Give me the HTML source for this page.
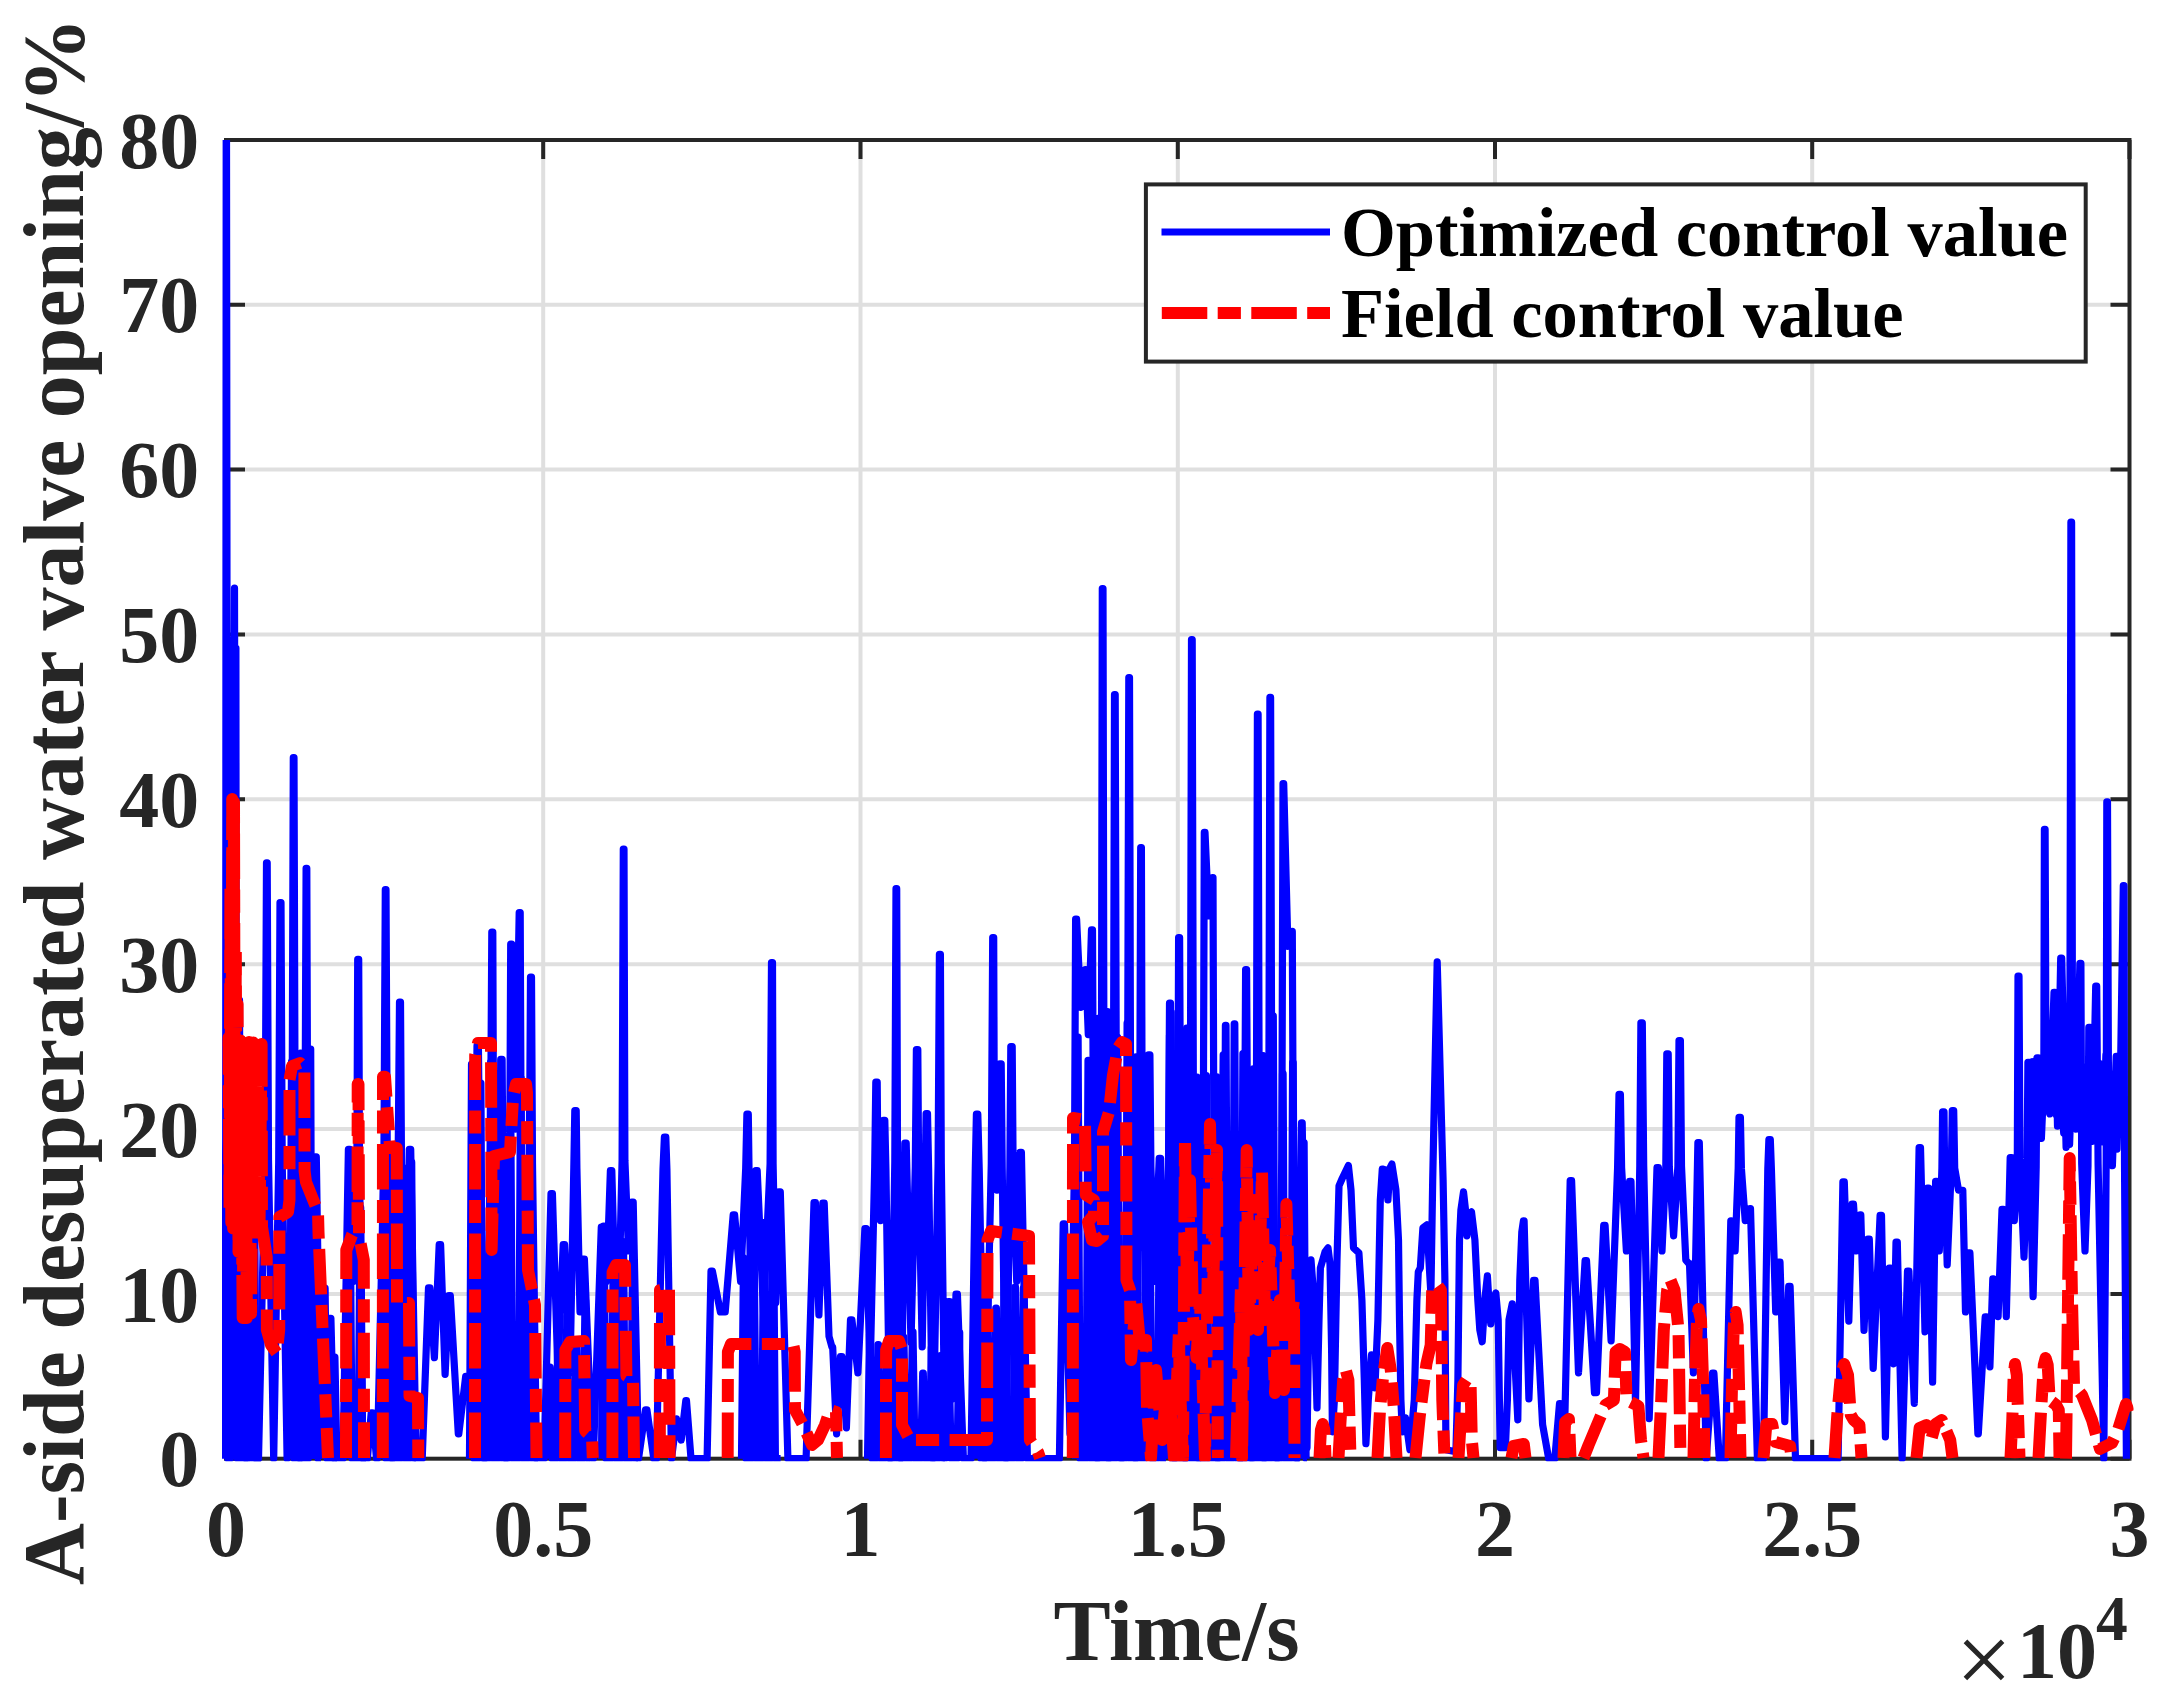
<!DOCTYPE html><html><head><meta charset="utf-8"><title>chart</title><style>html,body{margin:0;padding:0;background:#fff}svg{display:block}</style></head><body><svg width="2166" height="1702" viewBox="0 0 2166 1702">
<rect width="2166" height="1702" fill="#fff"/>
<path d="M543.2 140.0 V1458.7 M860.5 140.0 V1458.7 M1177.8 140.0 V1458.7 M1495.0 140.0 V1458.7 M1812.2 140.0 V1458.7 M226.0 1293.9 H2129.5 M226.0 1129.0 H2129.5 M226.0 964.2 H2129.5 M226.0 799.3 H2129.5 M226.0 634.5 H2129.5 M226.0 469.6 H2129.5 M226.0 304.8 H2129.5" stroke="#262626" stroke-opacity="0.15" stroke-width="4" fill="none"/>
<path d="M226.0 1458.7 v-19.0 M226.0 140.0 v19.0 M543.2 1458.7 v-19.0 M543.2 140.0 v19.0 M860.5 1458.7 v-19.0 M860.5 140.0 v19.0 M1177.8 1458.7 v-19.0 M1177.8 140.0 v19.0 M1495.0 1458.7 v-19.0 M1495.0 140.0 v19.0 M1812.2 1458.7 v-19.0 M1812.2 140.0 v19.0 M2129.5 1458.7 v-19.0 M2129.5 140.0 v19.0 M226.0 1458.7 h19.0 M2129.5 1458.7 h-19.0 M226.0 1293.9 h19.0 M2129.5 1293.9 h-19.0 M226.0 1129.0 h19.0 M2129.5 1129.0 h-19.0 M226.0 964.2 h19.0 M2129.5 964.2 h-19.0 M226.0 799.3 h19.0 M2129.5 799.3 h-19.0 M226.0 634.5 h19.0 M2129.5 634.5 h-19.0 M226.0 469.6 h19.0 M2129.5 469.6 h-19.0 M226.0 304.8 h19.0 M2129.5 304.8 h-19.0 M226.0 139.9 h19.0 M2129.5 139.9 h-19.0" stroke="#262626" stroke-width="4" fill="none"/>
<rect x="226.0" y="140.0" width="1903.5" height="1318.7" fill="none" stroke="#262626" stroke-width="4"/>
<clipPath id="c"><rect x="222.0" y="140.0" width="1911.5" height="1321.2"/></clipPath>
<g clip-path="url(#c)" fill="none" stroke-linejoin="round">
<path d="M223.9 1458.7 L225.7 1139.1 L226.2 140.0 L226.5 140.0 L227.9 1458.7 L229.3 640.0 L230.4 1458.7 L231.5 645.0 L233.0 1100.0 L234.5 588.0 L235.1 900.0 L235.6 648.0 L235.9 648.0 L236.3 1154.3 L237.5 1458.7 L238.8 1164.9 L239.1 1000.0 L239.5 1000.0 L240.8 1458.7 L242.0 1040.0 L243.3 1458.7 L244.6 1045.0 L246.0 1458.7 L247.2 1166.1 L247.5 1041.1 L247.9 1041.1 L248.6 1041.1 L249.3 1166.1 L252.2 1458.7 L258.5 1458.7 L265.1 1160.8 L266.5 862.8 L266.8 862.8 L267.2 862.8 L268.5 1160.8 L273.7 1458.7 L278.7 1162.0 L280.0 902.5 L280.5 902.5 L281.0 902.5 L282.2 1162.0 L287.1 1458.7 L292.0 1157.6 L293.3 757.7 L293.6 757.7 L294.0 757.7 L295.2 1157.6 L300.0 1458.7 L304.9 1160.9 L306.1 868.3 L306.4 868.3 L306.8 868.3 L307.7 1160.9 L311.3 1312.0 L314.9 1156.9 L315.6 1156.9 L316.3 1156.9 L320.1 1403.4 L322.6 1287.9 L323.2 1287.9 L323.9 1287.9 L327.1 1433.9 L329.6 1318.4 L330.2 1318.4 L330.9 1318.4 L334.4 1458.7 L343.0 1458.7 L348.4 1149.3 L349.1 1149.3 L349.8 1149.3 L353.6 1281.5 L356.9 1163.7 L357.7 959.4 L358.2 959.4 L358.7 959.4 L359.5 1163.7 L362.8 1458.7 L367.4 1458.7 L371.2 1412.8 L371.9 1412.8 L372.6 1412.8 L376.5 1458.7 L377.3 1458.7 L383.9 1161.6 L385.3 889.7 L385.6 889.7 L386.0 889.7 L387.3 1161.6 L392.3 1458.7 L398.1 1165.0 L399.5 1002.1 L400.0 1002.1 L400.5 1002.1 L401.5 1165.0 L405.4 1388.2 L409.3 1149.3 L410.0 1149.3 L410.7 1149.3 L416.1 1458.7 L422.2 1458.7 L428.5 1287.9 L429.2 1287.9 L429.9 1287.9 L434.4 1357.7 L439.2 1244.6 L439.9 1244.6 L440.6 1244.6 L445.1 1374.4 L448.9 1295.5 L449.6 1295.5 L450.3 1295.5 L458.3 1433.9 L458.8 1433.9 L465.7 1376.3 L466.4 1376.3 L471.6 1409.5 L475.9 1166.3 L477.0 1045.7 L477.7 1045.7 L478.4 1045.7 L479.6 1166.3 L484.7 1458.7 L490.4 1162.9 L491.8 932.0 L492.3 932.0 L492.8 932.0 L493.6 1162.9 L496.9 1336.4 L500.0 1166.7 L500.7 1059.4 L501.4 1059.4 L502.1 1059.4 L502.9 1166.7 L506.0 1458.7 L509.7 1163.2 L510.7 944.2 L511.2 944.2 L511.7 944.2 L515.4 1129.2 L519.2 912.5 L519.7 912.5 L520.2 912.5 L521.2 1162.3 L525.2 1251.0 L529.4 1164.2 L530.5 977.1 L531.0 977.1 L531.5 977.1 L532.5 1164.2 L536.5 1458.7 L544.1 1458.7 L551.0 1193.5 L551.7 1193.5 L552.4 1193.5 L557.8 1369.9 L563.2 1244.6 L563.9 1244.6 L564.6 1244.6 L570.0 1372.9 L573.8 1168.2 L574.8 1110.6 L575.5 1110.6 L576.2 1110.6 L576.9 1168.2 L580.0 1312.0 L583.0 1259.0 L583.7 1259.0 L584.4 1259.0 L592.4 1458.7 L592.8 1458.7 L593.3 1458.7 L601.3 1227.0 L602.0 1227.0 L602.7 1227.0 L606.6 1281.5 L610.4 1170.6 L611.1 1170.6 L611.8 1170.6 L617.2 1372.9 L622.1 1160.4 L623.3 849.1 L623.6 849.1 L624.0 849.1 L624.9 1160.4 L628.5 1251.0 L631.8 1202.0 L632.5 1202.0 L633.2 1202.0 L638.5 1458.7 L645.5 1409.8 L646.2 1409.8 L646.9 1409.8 L653.8 1458.7 L656.4 1458.7 L663.0 1169.0 L664.4 1137.1 L665.1 1137.1 L665.8 1137.1 L666.9 1169.0 L671.5 1458.7 L676.6 1418.9 L681.2 1440.0 L685.8 1400.7 L686.5 1400.7 L691.0 1458.7 L707.1 1458.7 L711.0 1271.2 L711.7 1271.2 L712.4 1271.2 L720.4 1312.0 L720.8 1312.0 L725.2 1312.0 L733.2 1214.8 L733.9 1214.8 L734.6 1214.8 L740.6 1281.5 L745.7 1168.3 L746.9 1114.2 L747.6 1114.2 L748.3 1114.2 L749.0 1168.3 L751.9 1397.3 L755.8 1170.6 L756.5 1170.6 L757.2 1170.6 L763.5 1312.0 L770.1 1163.8 L771.5 962.5 L772.0 962.5 L772.5 962.5 L773.1 1163.8 L775.7 1302.8 L778.9 1191.9 L779.6 1191.9 L780.3 1191.9 L787.9 1458.7 L806.1 1458.7 L814.0 1202.6 L814.7 1202.6 L815.4 1202.6 L818.9 1315.0 L822.8 1203.2 L823.5 1203.2 L824.2 1203.2 L829.0 1336.4 L832.0 1347.3 L832.7 1347.3 L836.6 1433.9 L840.5 1356.5 L841.2 1356.5 L841.9 1356.5 L846.4 1427.8 L850.5 1319.9 L851.2 1319.9 L851.9 1319.9 L857.9 1372.9 L864.9 1228.5 L865.6 1228.5 L866.3 1228.5 L870.1 1372.9 L874.7 1167.4 L875.8 1082.2 L876.5 1082.2 L877.2 1082.2 L877.9 1167.4 L880.5 1220.6 L882.9 1168.5 L883.4 1120.3 L884.1 1120.3 L884.8 1120.3 L885.9 1168.5 L890.2 1458.7 L894.8 1161.6 L896.0 888.7 L896.3 888.7 L896.7 888.7 L897.5 1161.6 L900.9 1458.7 L904.8 1143.2 L905.5 1143.2 L906.2 1143.2 L911.0 1342.5 L915.3 1166.4 L916.4 1049.6 L917.1 1049.6 L917.8 1049.6 L918.6 1166.4 L922.2 1347.0 L925.3 1168.3 L926.1 1113.6 L926.8 1113.6 L927.5 1113.6 L928.6 1168.3 L932.9 1458.7 L938.1 1163.5 L939.4 954.3 L939.9 954.3 L940.4 954.3 L941.3 1163.5 L945.1 1458.7 L948.3 1301.6 L949.0 1301.6 L949.7 1301.6 L952.7 1398.8 L956.0 1294.0 L956.7 1294.0 L957.4 1294.0 L963.4 1458.7 L971.0 1458.7 L975.3 1168.3 L976.4 1114.2 L977.1 1114.2 L977.8 1114.2 L979.2 1168.3 L984.7 1458.7 L991.3 1163.0 L992.7 937.5 L993.2 937.5 L993.7 937.5 L994.4 1153.1 L996.9 1190.1 L999.2 1166.8 L999.8 1063.9 L1000.5 1063.9 L1001.2 1063.9 L1002.2 1166.8 L1006.0 1458.7 L1009.9 1166.3 L1010.8 1046.6 L1011.5 1046.6 L1012.2 1046.6 L1013.1 1166.3 L1016.7 1281.5 L1020.0 1152.3 L1020.7 1152.3 L1021.4 1152.3 L1027.4 1458.7 L1059.4 1458.7 L1063.2 1223.9 L1063.9 1223.9 L1064.6 1223.9 L1070.0 1433.9 L1074.5 1162.5 L1075.6 919.2 L1076.1 919.2 L1076.6 919.2 L1080.7 1007.3 L1085.3 969.5 L1085.8 969.5 L1088.3 1034.7 L1091.5 929.9 L1092.0 929.9 L1092.5 929.9 L1093.5 1162.8 L1097.4 1458.7 L1101.3 1152.6 L1102.3 588.6 L1102.6 588.6 L1103.0 588.6 L1104.1 1152.6 L1108.7 1458.7 L1113.3 1155.7 L1114.5 694.6 L1114.8 694.6 L1115.2 694.6 L1116.5 1155.7 L1121.8 1458.7 L1127.4 1155.2 L1128.8 677.6 L1129.1 677.6 L1129.5 677.6 L1130.7 1155.2 L1135.5 1458.7 L1139.6 1160.3 L1140.7 847.6 L1141.0 847.6 L1141.4 847.6 L1142.2 1160.3 L1145.6 1251.0 L1147.9 1166.5 L1148.5 1054.8 L1149.2 1054.8 L1149.9 1054.8 L1150.9 1166.5 L1154.7 1281.5 L1159.2 1158.4 L1159.9 1158.4 L1160.6 1158.4 L1164.5 1372.9 L1168.5 1165.0 L1169.5 1003.0 L1170.0 1003.0 L1170.5 1003.0 L1171.3 1165.0 L1174.5 1458.7 L1177.8 1163.0 L1178.6 937.5 L1179.1 937.5 L1179.6 937.5 L1180.7 1163.0 L1185.2 1458.7 L1190.3 1154.1 L1191.5 639.5 L1191.9 639.5 L1192.2 639.5 L1193.5 1154.1 L1198.6 1458.7 L1203.2 1159.9 L1204.3 832.4 L1204.7 832.4 L1205.0 832.4 L1208.7 915.9 L1212.6 877.5 L1213.0 877.5 L1213.9 1161.2 L1217.8 1458.7 L1222.1 1166.5 L1223.2 1054.8 L1223.9 1054.8 L1224.6 1054.8 L1225.7 1166.5 L1230.0 1403.4 L1233.9 1217.8 L1234.6 1217.8 L1235.3 1217.8 L1240.7 1458.7 L1244.6 1164.0 L1245.6 969.5 L1246.1 969.5 L1246.6 969.5 L1247.7 1164.0 L1251.9 1458.7 L1256.3 1156.3 L1257.4 714.1 L1257.7 714.1 L1258.1 714.1 L1259.3 1156.3 L1264.1 1458.7 L1268.7 1155.8 L1269.9 697.4 L1270.2 697.4 L1270.6 697.4 L1271.9 1155.8 L1277.2 1458.7 L1281.8 1158.4 L1283.0 783.6 L1283.3 783.6 L1283.7 783.6 L1287.9 946.3 L1291.8 931.4 L1292.3 931.4 L1293.3 1162.8 L1297.0 1458.7 L1300.6 1168.6 L1301.5 1122.8 L1302.2 1122.8 L1307.0 1447.7 L1309.0 1299.9 L1311.0 1259.9 L1314.0 1299.9 L1317.0 1407.8 L1319.0 1319.8 L1320.4 1267.9 L1325.0 1251.9 L1328.0 1247.9 L1330.0 1263.9 L1331.6 1349.8 L1332.4 1431.8 L1334.4 1399.8 L1337.0 1259.9 L1339.0 1185.9 L1342.4 1178.0 L1348.4 1165.6 L1351.0 1189.9 L1353.5 1247.9 L1358.9 1252.9 L1361.9 1299.9 L1364.3 1379.8 L1365.9 1443.7 L1368.3 1399.8 L1371.5 1354.8 L1374.9 1387.8 L1377.9 1319.8 L1380.3 1199.9 L1382.3 1169.0 L1385.5 1170.0 L1387.9 1199.9 L1389.9 1168.0 L1391.9 1164.0 L1395.9 1189.9 L1398.5 1239.9 L1399.5 1319.8 L1400.9 1399.8 L1402.3 1431.8 L1405.5 1417.8 L1409.9 1449.7 L1414.3 1399.8 L1416.9 1299.9 L1418.3 1271.9 L1420.3 1267.9 L1422.9 1227.9 L1426.9 1224.9 L1428.9 1259.9 L1430.9 1293.9 L1432.7 1180.0 L1437.2 961.9 L1443.1 1180.0 L1444.9 1279.9 L1445.9 1449.7 L1455.9 1451.7 L1457.9 1379.8 L1459.5 1239.9 L1460.9 1209.9 L1463.5 1191.9 L1465.5 1209.9 L1466.9 1235.9 L1468.9 1213.9 L1471.5 1211.9 L1474.9 1239.9 L1477.8 1299.9 L1479.8 1329.8 L1482.2 1341.8 L1484.8 1299.9 L1487.4 1275.9 L1489.4 1309.8 L1490.8 1323.8 L1493.4 1299.9 L1495.8 1292.9 L1498.2 1319.8 L1499.4 1399.8 L1500.2 1447.7 L1505.4 1447.7 L1507.4 1399.8 L1509.0 1319.8 L1512.2 1303.9 L1514.8 1359.8 L1517.8 1419.8 L1519.8 1279.9 L1521.8 1231.9 L1523.4 1220.9 L1524.1 1220.9 L1528.9 1398.8 L1533.6 1280.3 L1534.3 1280.3 L1535.0 1280.3 L1542.6 1424.7 L1548.7 1458.7 L1554.8 1458.7 L1559.5 1403.7 L1560.2 1403.7 L1564.5 1433.9 L1570.2 1180.7 L1570.9 1180.7 L1571.6 1180.7 L1578.5 1372.9 L1585.1 1260.5 L1585.8 1260.5 L1586.5 1260.5 L1594.5 1392.7 L1596.5 1392.7 L1603.7 1225.4 L1604.4 1225.4 L1605.1 1225.4 L1611.1 1340.9 L1617.6 1167.7 L1619.0 1094.4 L1619.7 1094.4 L1620.4 1094.4 L1621.6 1167.7 L1626.4 1251.0 L1629.6 1181.3 L1630.3 1181.3 L1631.0 1181.3 L1635.5 1403.4 L1639.8 1165.6 L1640.9 1022.8 L1641.6 1022.8 L1642.3 1022.8 L1643.7 1165.6 L1649.2 1418.6 L1657.0 1167.6 L1657.7 1167.6 L1658.4 1167.6 L1662.0 1251.0 L1665.8 1166.5 L1666.8 1053.9 L1667.5 1053.9 L1668.2 1053.9 L1669.3 1166.5 L1673.6 1235.8 L1677.9 1166.1 L1679.0 1040.5 L1679.7 1040.5 L1680.4 1040.5 L1681.5 1166.1 L1685.8 1260.2 L1688.8 1263.5 L1689.5 1263.5 L1693.4 1372.9 L1697.9 1142.6 L1698.6 1142.6 L1699.3 1142.6 L1706.2 1458.7 L1712.5 1373.2 L1713.2 1373.2 L1713.9 1373.2 L1719.3 1458.7 L1725.4 1458.7 L1730.8 1220.9 L1731.5 1220.9 L1735.1 1251.0 L1738.2 1168.4 L1739.0 1117.3 L1739.7 1117.3 L1740.4 1117.3 L1741.4 1168.4 L1745.2 1220.6 L1749.8 1208.7 L1750.5 1208.7 L1757.4 1458.7 L1763.5 1458.7 L1767.8 1169.1 L1768.9 1139.5 L1769.6 1139.5 L1770.3 1139.5 L1771.4 1169.1 L1775.7 1312.0 L1778.6 1262.0 L1779.3 1262.0 L1780.0 1262.0 L1784.8 1421.7 L1788.7 1286.4 L1789.4 1286.4 L1790.1 1286.4 L1795.5 1458.7 L1838.1 1458.7 L1842.9 1181.9 L1843.6 1181.9 L1844.3 1181.9 L1848.8 1321.1 L1852.1 1204.1 L1852.8 1204.1 L1853.5 1204.1 L1856.4 1251.0 L1860.1 1214.8 L1860.8 1214.8 L1864.0 1330.3 L1867.9 1239.2 L1868.6 1239.2 L1869.3 1239.2 L1873.2 1368.4 L1880.1 1215.4 L1880.8 1215.4 L1881.5 1215.4 L1885.4 1436.9 L1889.2 1268.1 L1889.9 1268.1 L1890.6 1268.1 L1893.6 1363.8 L1896.0 1242.2 L1896.6 1242.2 L1897.3 1242.2 L1902.1 1458.7 L1907.5 1271.2 L1908.2 1271.2 L1908.9 1271.2 L1914.3 1403.4 L1919.1 1147.7 L1919.8 1147.7 L1920.5 1147.7 L1925.0 1331.8 L1927.4 1188.0 L1928.0 1188.0 L1928.7 1188.0 L1932.6 1382.1 L1935.6 1181.3 L1936.3 1181.3 L1936.9 1181.3 L1939.3 1251.0 L1941.9 1168.3 L1942.6 1111.8 L1943.3 1111.8 L1944.0 1111.8 L1944.6 1168.3 L1947.2 1264.8 L1951.3 1168.2 L1952.3 1110.6 L1953.0 1110.6 L1953.7 1110.6 L1954.7 1168.2 L1958.5 1190.1 L1962.2 1190.4 L1962.8 1190.4 L1965.5 1312.0 L1968.5 1252.9 L1969.2 1252.9 L1969.9 1252.9 L1977.9 1433.9 L1978.3 1433.9 L1985.2 1316.9 L1985.9 1316.9 L1986.6 1316.9 L1989.9 1366.8 L1992.8 1278.8 L1993.5 1278.8 L1998.1 1316.6 L2002.0 1209.3 L2002.7 1209.3 L2003.4 1209.3 L2006.3 1316.6 L2010.2 1157.5 L2010.9 1157.5 L2011.6 1157.5 L2014.3 1220.6 L2017.3 1164.2 L2018.0 976.2 L2018.5 976.2 L2019.0 976.2 L2020.0 1164.2 L2024.0 1257.1 L2027.1 1166.8 L2027.9 1062.4 L2028.6 1062.4 L2029.3 1062.4 L2030.1 1166.8 L2033.1 1296.7 L2036.2 1166.6 L2037.0 1057.9 L2037.7 1057.9 L2038.4 1057.9 L2041.4 1138.3 L2043.8 1082.7 L2044.4 829.3 L2044.7 829.3 L2045.1 829.3 L2046.0 1062.7 L2049.9 1113.9 L2054.0 992.3 L2054.5 992.3 L2055.0 992.3 L2057.5 1126.1 L2060.7 958.2 L2061.2 958.2 L2061.7 958.2 L2066.1 1147.4 L2069.9 1034.9 L2070.9 522.2 L2071.2 522.2 L2071.6 522.2 L2072.4 1019.9 L2075.8 1129.2 L2079.9 963.4 L2080.4 963.4 L2080.9 963.4 L2081.7 1163.8 L2085.0 1251.0 L2088.0 1165.7 L2088.8 1027.4 L2089.5 1027.4 L2090.1 1027.4 L2092.6 1141.3 L2095.7 986.2 L2096.2 986.2 L2096.7 986.2 L2098.1 1164.5 L2103.8 1458.7 L2106.2 1159.0 L2106.8 801.9 L2107.2 801.9 L2107.5 801.9 L2108.5 1100.2 L2112.4 1165.7 L2116.2 1056.3 L2116.9 1056.3 L2117.6 1056.3 L2120.0 1104.8 L2123.3 885.7 L2123.6 885.7 L2124.0 885.7 L2124.5 1161.5 L2126.4 1458.7" stroke="#0000ff" stroke-width="7.2"/>
<path d="M2034.0 1058.0 L2036.8 1136.0 L2039.4 1066.4 L2042.7 1112.3 L2046.2 1046.5 L2049.6 1112.8 L2052.2 1062.0 L2056.4 1115.0 L2059.3 1070.1 L2063.7 1133.1 L2067.0 1084.1 L2069.6 1144.3 L2072.7 1050.8 L2075.4 1122.3 L2079.6 1052.2 L2083.2 1135.6 L2086.5 1066.9 L2089.1 1112.4 L2092.0 1072.2 L2095.4 1122.6 L2099.0 1063.1 L2102.1 1141.8 L2106.0 1054.8 L2109.7 1131.0 L2113.9 1074.2 L2117.0 1149.2 L2119.8 1061.7 L2123.8 1116.1" stroke="#0000ff" stroke-width="7.2"/>
<path d="M241.5 1458.7 L243.5 1043.5 L244.1 1043.5 L246.1 1458.7 L250.0 1458.7" stroke="#0000ff" stroke-width="7.2"/>
<path d="M251.5 1458.7 L253.5 1093.5 L254.1 1093.5 L256.1 1458.7 L261.1 1458.7" stroke="#0000ff" stroke-width="7.2"/>
<path d="M289.5 1458.7 L291.5 1061.9 L292.1 1061.9 L294.1 1458.7 L298.5 1458.7 L300.5 1053.0 L301.1 1053.0 L303.1 1458.7 L308.1 1458.7 L310.1 1049.0 L310.7 1049.0 L312.0 1458.7 L312.0 1458.7" stroke="#0000ff" stroke-width="7.2"/>
<path d="M313.5 1458.7 L315.5 1213.8 L316.1 1213.8 L318.1 1458.7 L321.0 1458.7" stroke="#0000ff" stroke-width="7.2"/>
<path d="M322.5 1458.7 L324.5 1288.2 L325.1 1288.2 L327.1 1458.7 L332.3 1458.7 L334.3 1357.2 L334.9 1357.2 L336.9 1458.7 L337.0 1458.7" stroke="#0000ff" stroke-width="7.2"/>
<path d="M347.5 1458.7 L349.5 1195.3 L350.1 1195.3 L352.1 1458.7 L358.1 1458.7 L360.1 1207.5 L360.7 1207.5 L362.7 1458.7 L366.0 1458.7" stroke="#0000ff" stroke-width="7.2"/>
<path d="M381.5 1458.7 L383.5 1177.4 L384.1 1177.4 L386.1 1458.7 L391.3 1458.7 L393.3 1154.7 L393.9 1154.7 L395.9 1458.7 L400.6 1458.7 L402.6 1167.5 L403.2 1167.5 L405.2 1458.7 L409.1 1458.7 L411.1 1162.2 L411.7 1162.2 L413.7 1458.7 L416.0 1458.7" stroke="#0000ff" stroke-width="7.2"/>
<path d="M469.5 1458.7 L471.5 1064.2 L472.1 1064.2 L474.1 1458.7 L478.3 1458.7 L480.3 1083.1 L480.9 1083.1 L482.9 1458.7 L488.6 1458.7 L490.6 1062.1 L491.2 1062.1 L493.2 1458.7 L497.9 1458.7 L499.9 1095.6 L500.5 1095.6 L502.5 1458.7 L508.2 1458.7 L510.2 1115.2 L510.8 1115.2 L512.8 1458.7 L518.5 1458.7 L520.5 1078.1 L521.1 1078.1 L523.1 1458.7 L527.7 1458.7 L529.7 1084.4 L530.3 1084.4 L532.3 1458.7 L538.0 1458.7" stroke="#0000ff" stroke-width="7.2"/>
<path d="M547.5 1458.7 L549.5 1367.0 L550.1 1367.0 L552.1 1458.7 L556.1 1458.7 L558.1 1312.3 L558.7 1312.3 L560.7 1458.7 L564.8 1458.7 L566.8 1316.3 L567.4 1316.3 L569.4 1458.7 L574.2 1458.7 L576.2 1341.2 L576.8 1341.2 L578.8 1458.7 L583.0 1458.7 L585.0 1300.3 L585.6 1300.3 L587.6 1458.7 L590.0 1458.7" stroke="#0000ff" stroke-width="7.2"/>
<path d="M601.5 1458.7 L603.5 1226.2 L604.1 1226.2 L606.1 1458.7 L611.1 1458.7 L613.1 1269.6 L613.7 1269.6 L615.7 1458.7 L620.9 1458.7 L622.9 1241.6 L623.5 1241.6 L625.5 1458.7 L630.6 1458.7 L632.6 1255.4 L633.2 1255.4 L635.2 1458.7 L638.0 1458.7" stroke="#0000ff" stroke-width="7.2"/>
<path d="M741.5 1458.7 L743.5 1258.0 L744.1 1258.0 L746.1 1458.7 L751.6 1458.7 L753.6 1256.2 L754.2 1256.2 L756.2 1458.7 L761.7 1458.7 L763.7 1222.5 L764.3 1222.5 L766.3 1458.7 L770.8 1458.7 L772.8 1202.2 L773.4 1202.2 L775.4 1458.7 L780.6 1458.7" stroke="#0000ff" stroke-width="7.2"/>
<path d="M867.5 1458.7 L869.5 1334.4 L870.1 1334.4 L872.1 1458.7 L875.9 1458.7 L877.9 1344.6 L878.5 1344.6 L880.5 1458.7 L884.5 1458.7 L886.5 1353.8 L887.1 1353.8 L889.1 1458.7 L892.8 1458.7 L894.8 1330.0 L895.4 1330.0 L897.4 1458.7 L901.3 1458.7 L903.3 1337.1 L903.9 1337.1 L905.9 1458.7 L910.4 1458.7 L912.4 1331.8 L913.0 1331.8 L915.0 1458.7 L920.7 1458.7 L922.7 1373.0 L923.3 1373.0 L925.3 1458.7 L929.3 1458.7 L931.3 1347.7 L931.9 1347.7 L933.9 1458.7 L938.3 1458.7 L940.3 1355.5 L940.9 1355.5 L942.9 1458.7 L945.0 1458.7" stroke="#0000ff" stroke-width="7.2"/>
<path d="M946.5 1458.7 L948.5 1359.4 L949.1 1359.4 L951.1 1458.7 L957.1 1458.7 L959.1 1332.6 L959.7 1332.6 L960.0 1458.7 L960.0 1458.7" stroke="#0000ff" stroke-width="7.2"/>
<path d="M976.5 1458.7 L978.5 1256.0 L979.1 1256.0 L981.1 1458.7 L984.9 1458.7 L986.9 1274.0 L987.5 1274.0 L989.5 1458.7 L993.8 1458.7 L995.8 1308.0 L996.4 1308.0 L998.4 1458.7 L1002.4 1458.7 L1004.4 1251.6 L1005.0 1251.6 L1007.0 1458.7 L1012.9 1458.7 L1014.9 1287.0 L1015.5 1287.0 L1017.5 1458.7 L1021.4 1458.7 L1023.4 1288.0 L1024.0 1288.0 L1024.0 1458.7 L1024.0 1458.7" stroke="#0000ff" stroke-width="7.2"/>
<path d="M1075.5 1458.7 L1077.5 1037.0 L1078.1 1037.0 L1080.1 1458.7 L1086.0 1458.7 L1088.0 1060.4 L1088.6 1060.4 L1090.6 1458.7 L1095.9 1458.7 L1097.9 1018.3 L1098.5 1018.3 L1100.5 1458.7 L1105.0 1458.7 L1107.0 1011.7 L1107.6 1011.7 L1109.6 1458.7 L1115.1 1458.7 L1117.1 1037.3 L1117.7 1037.3 L1119.7 1458.7 L1125.1 1458.7 L1127.1 1023.1 L1127.7 1023.1 L1129.7 1458.7 L1133.9 1458.7 L1135.9 1056.8 L1136.5 1056.8 L1138.5 1458.7 L1144.4 1458.7 L1146.4 1059.7 L1147.0 1059.7 L1146.0 1458.7 L1146.0 1458.7" stroke="#0000ff" stroke-width="7.2"/>
<path d="M1147.5 1458.7 L1149.5 1217.3 L1150.1 1217.3 L1152.1 1458.7 L1157.5 1458.7 L1159.5 1175.9 L1160.1 1175.9 L1162.1 1458.7 L1166.0 1458.7" stroke="#0000ff" stroke-width="7.2"/>
<path d="M1167.5 1458.7 L1169.5 1034.9 L1170.1 1034.9 L1172.1 1458.7 L1175.8 1458.7 L1177.8 1012.0 L1178.4 1012.0 L1180.4 1458.7 L1184.6 1458.7 L1186.6 1028.1 L1187.2 1028.1 L1189.2 1458.7 L1194.5 1458.7 L1196.5 1077.0 L1197.1 1077.0 L1199.1 1458.7 L1203.8 1458.7 L1205.8 1075.6 L1206.4 1075.6 L1208.4 1458.7 L1214.3 1458.7 L1216.3 1076.9 L1216.9 1076.9 L1218.9 1458.7 L1223.4 1458.7 L1225.4 1025.4 L1226.0 1025.4 L1228.0 1458.7 L1232.2 1458.7 L1234.2 1023.8 L1234.8 1023.8 L1236.8 1458.7 L1240.9 1458.7 L1242.9 1053.7 L1243.5 1053.7 L1245.5 1458.7 L1251.2 1458.7 L1253.2 1068.8 L1253.8 1068.8 L1255.8 1458.7 L1260.6 1458.7 L1262.6 1055.7 L1263.2 1055.7 L1265.2 1458.7 L1270.7 1458.7 L1272.7 1015.9 L1273.3 1015.9 L1275.3 1458.7 L1280.5 1458.7 L1282.5 1073.7 L1283.1 1073.7 L1285.1 1458.7 L1290.6 1458.7 L1292.6 1062.5 L1293.2 1062.5 L1295.2 1458.7 L1299.9 1458.7" stroke="#0000ff" stroke-width="7.2"/>
<path d="M1301.5 1458.7 L1303.5 1142.5 L1304.1 1142.5 L1306.1 1458.7 L1307.0 1458.7" stroke="#0000ff" stroke-width="7.2"/>
<path d="M228.5 1046.0 L228.6 1037.6 L229.5 1208.0 L230.4 886.1 L231.3 1222.4 L232.2 798.9 L233.1 1228.4 L234.0 802.0 L234.9 1229.0 L235.8 947.0 L236.7 1229.6 L237.6 1004.0 L238.5 1252.0 L240.6 1040.5 L242.7 1318.0 L244.8 1041.2 L246.9 1318.0 L249.0 1041.9 L251.1 1313.4 L253.2 1042.5 L255.3 1227.0 L257.4 1043.2 L259.5 1227.0 L261.6 1043.9 L262.0 1227.0 L266.7 1257.0 L266.9 1330.0 L271.0 1345.0 L276.8 1353.0 L279.2 1330.0 L279.4 1217.0 L288.0 1212.0 L289.5 1200.0 L289.5 1080.0 L292.0 1066.0 L300.0 1063.0 L304.4 1068.0 L304.6 1171.0 L306.0 1182.0 L318.0 1212.0 L318.5 1232.0 L327.5 1447.0 L328.0 1458.0" stroke="#ff0000" stroke-width="12" stroke-dasharray="45.5 10.4 23.2 10.4" stroke-linejoin="round"/>
<path d="M346.0 1458.0 L346.3 1250.0 L352.0 1235.0 L357.5 1225.0 L357.7 1084.0 L358.5 1084.0 L359.0 1235.0 L363.8 1260.0 L364.0 1458.0" stroke="#ff0000" stroke-width="12" stroke-dasharray="45.5 10.4 23.2 10.4" stroke-linejoin="round"/>
<path d="M382.8 1458.0 L383.0 1076.7 L385.0 1076.7 L390.0 1148.0 L396.8 1148.0 L397.0 1303.0 L409.0 1303.0 L409.5 1396.0 L418.0 1398.0 L418.3 1458.0" stroke="#ff0000" stroke-width="12" stroke-dasharray="45.5 10.4 23.2 10.4" stroke-linejoin="round"/>
<path d="M475.0 1458.0 L475.2 1055.0 L478.0 1043.0 L491.0 1043.0 L491.6 1250.0 L494.0 1156.0 L510.0 1152.0 L513.0 1098.0 L516.0 1084.0 L526.0 1084.0 L527.0 1093.0 L528.0 1270.0 L535.0 1305.0 L536.5 1458.0" stroke="#ff0000" stroke-width="12" stroke-dasharray="45.5 10.4 23.2 10.4" stroke-linejoin="round"/>
<path d="M565.2 1458.0 L565.4 1350.0 L570.0 1342.0 L584.0 1341.0 L585.2 1431.0 L592.0 1437.0 L592.8 1458.0" stroke="#ff0000" stroke-width="12" stroke-dasharray="45.5 10.4 23.2 10.4" stroke-linejoin="round"/>
<path d="M612.4 1458.0 L612.6 1272.0 L616.0 1265.0 L625.0 1265.0 L626.4 1376.0 L633.0 1380.0 L634.0 1458.0" stroke="#ff0000" stroke-width="12" stroke-dasharray="45.5 10.4 23.2 10.4" stroke-linejoin="round"/>
<path d="M659.8 1458.0 L660.0 1290.0 L669.0 1288.0 L669.6 1458.0" stroke="#ff0000" stroke-width="12" stroke-dasharray="45.5 10.4 23.2 10.4" stroke-linejoin="round"/>
<path d="M727.7 1458.0 L727.9 1352.0 L731.0 1344.0 L793.0 1344.0 L794.7 1352.0 L795.0 1410.0 L803.0 1425.0 L812.0 1445.0 L818.0 1440.0 L825.0 1425.0 L830.0 1410.0 L836.0 1412.0 L837.0 1458.0" stroke="#ff0000" stroke-width="12" stroke-dasharray="45.5 10.4 23.2 10.4" stroke-linejoin="round"/>
<path d="M885.9 1458.0 L886.1 1350.0 L889.0 1341.0 L899.0 1341.0 L902.0 1350.0 L902.0 1425.0 L910.0 1440.0 L987.0 1440.0 L987.5 1240.0 L991.0 1231.0 L1029.0 1236.0 L1029.9 1440.0 L1038.0 1452.0 L1040.0 1458.0" stroke="#ff0000" stroke-width="12" stroke-dasharray="45.5 10.4 23.2 10.4" stroke-linejoin="round"/>
<path d="M1072.8 1458.0 L1073.0 1118.0 L1085.0 1120.0 L1085.8 1195.0 L1094.0 1200.0 L1094.0 1215.0 L1088.0 1222.0 L1092.0 1240.0 L1097.0 1241.0 L1103.0 1236.0 L1103.0 1132.0 L1109.0 1112.0 L1113.0 1075.0 L1118.0 1048.0 L1122.0 1042.0 L1126.0 1044.0 L1126.5 1280.0 L1130.0 1290.0 L1131.0 1360.0 L1136.0 1300.0 L1141.0 1355.0 L1146.0 1340.0 L1147.0 1408.0 L1151.0 1458.0 L1156.0 1370.0 L1162.0 1440.0 L1168.0 1375.0 L1174.0 1458.0 L1179.0 1330.0 L1179.5 1375.0 L1183.0 1458.0 L1185.0 1138.0 L1187.0 1300.0 L1190.0 1180.0 L1193.0 1316.0 L1196.5 1358.0 L1200.0 1300.0 L1205.0 1458.0 L1210.0 1124.0 L1213.0 1290.0 L1217.0 1150.0 L1217.8 1458.0" stroke="#ff0000" stroke-width="12" stroke-dasharray="45.5 10.4 23.2 10.4" stroke-linejoin="round"/>
<path d="M1236.0 1458.0 L1241.0 1285.0 L1242.0 1458.0 L1246.7 1150.0 L1249.0 1330.0 L1254.0 1200.0 L1258.0 1330.0 L1262.0 1172.0 L1265.0 1320.0 L1270.0 1250.0 L1275.0 1393.0 L1280.0 1300.0 L1284.0 1390.0 L1286.4 1204.0 L1290.0 1330.0 L1294.0 1300.0 L1294.5 1458.0" stroke="#ff0000" stroke-width="12" stroke-dasharray="45.5 10.4 23.2 10.4" stroke-linejoin="round"/>
<path d="M1319.5 1458.0 L1320.9 1430.0 L1322.7 1424.0 L1324.4 1430.0 L1325.5 1458.0" stroke="#ff0000" stroke-width="12" stroke-dasharray="45.5 10.4 23.2 10.4" stroke-linejoin="round"/>
<path d="M1338.5 1458.0 L1340.6 1420.0 L1343.2 1380.0 L1345.8 1370.0 L1348.4 1380.0 L1350.5 1458.0" stroke="#ff0000" stroke-width="12" stroke-dasharray="45.5 10.4 23.2 10.4" stroke-linejoin="round"/>
<path d="M1377.5 1458.0 L1380.0 1410.0 L1383.2 1375.0 L1387.3 1348.0 L1390.8 1370.0 L1394.0 1410.0 L1396.5 1458.0" stroke="#ff0000" stroke-width="12" stroke-dasharray="45.5 10.4 23.2 10.4" stroke-linejoin="round"/>
<path d="M1415.5 1458.0 L1419.8 1416.0 L1426.4 1364.0 L1430.7 1345.0 L1432.2 1290.0 L1436.5 1284.0 L1440.9 1290.0 L1442.3 1400.0 L1444.5 1458.0" stroke="#ff0000" stroke-width="12" stroke-dasharray="45.5 10.4 23.2 10.4" stroke-linejoin="round"/>
<path d="M1458.5 1458.0 L1460.8 1420.0 L1463.1 1385.0 L1467.1 1379.0 L1470.6 1385.0 L1471.8 1440.0 L1473.5 1458.0" stroke="#ff0000" stroke-width="12" stroke-dasharray="45.5 10.4 23.2 10.4" stroke-linejoin="round"/>
<path d="M1511.5 1458.0 L1513.7 1446.0 L1523.8 1444.0 L1525.5 1458.0" stroke="#ff0000" stroke-width="12" stroke-dasharray="45.5 10.4 23.2 10.4" stroke-linejoin="round"/>
<path d="M1563.5 1458.0 L1565.1 1422.0 L1568.9 1419.0 L1570.5 1458.0" stroke="#ff0000" stroke-width="12" stroke-dasharray="45.5 10.4 23.2 10.4" stroke-linejoin="round"/>
<path d="M1583.5 1458.0 L1588.6 1445.0 L1597.0 1425.0 L1605.5 1405.0 L1613.9 1400.0 L1615.6 1352.0 L1619.8 1349.0 L1624.9 1352.0 L1626.6 1400.0 L1638.4 1406.0 L1641.0 1440.0 L1643.5 1458.0" stroke="#ff0000" stroke-width="12" stroke-dasharray="45.5 10.4 23.2 10.4" stroke-linejoin="round"/>
<path d="M1658.5 1458.0 L1661.2 1400.0 L1663.8 1330.0 L1667.2 1290.0 L1670.5 1280.0 L1674.5 1290.0 L1678.5 1330.0 L1680.5 1458.0" stroke="#ff0000" stroke-width="12" stroke-dasharray="45.5 10.4 23.2 10.4" stroke-linejoin="round"/>
<path d="M1693.5 1458.0 L1695.0 1380.0 L1697.0 1320.0 L1698.5 1309.0 L1701.0 1320.0 L1703.0 1380.0 L1704.5 1458.0" stroke="#ff0000" stroke-width="12" stroke-dasharray="45.5 10.4 23.2 10.4" stroke-linejoin="round"/>
<path d="M1730.5 1458.0 L1731.9 1390.0 L1733.8 1325.0 L1735.7 1312.0 L1737.6 1325.0 L1739.1 1390.0 L1740.5 1458.0" stroke="#ff0000" stroke-width="12" stroke-dasharray="45.5 10.4 23.2 10.4" stroke-linejoin="round"/>
<path d="M1763.5 1458.0 L1766.4 1424.0 L1772.1 1424.0 L1775.7 1442.0 L1790.1 1446.0 L1791.5 1458.0" stroke="#ff0000" stroke-width="12" stroke-dasharray="45.5 10.4 23.2 10.4" stroke-linejoin="round"/>
<path d="M1834.5 1458.0 L1837.3 1415.0 L1840.9 1375.0 L1844.2 1364.0 L1848.0 1375.0 L1850.8 1415.0 L1853.7 1420.0 L1859.4 1425.0 L1861.5 1458.0" stroke="#ff0000" stroke-width="12" stroke-dasharray="45.5 10.4 23.2 10.4" stroke-linejoin="round"/>
<path d="M1916.5 1458.0 L1919.6 1428.0 L1926.5 1425.0 L1931.1 1440.0 L1935.6 1424.0 L1941.8 1420.0 L1950.2 1440.0 L1952.5 1458.0" stroke="#ff0000" stroke-width="12" stroke-dasharray="45.5 10.4 23.2 10.4" stroke-linejoin="round"/>
<path d="M2010.5 1458.0 L2012.3 1420.0 L2013.7 1375.0 L2015.0 1364.0 L2016.8 1375.0 L2018.2 1420.0 L2019.5 1458.0" stroke="#ff0000" stroke-width="12" stroke-dasharray="45.5 10.4 23.2 10.4" stroke-linejoin="round"/>
<path d="M2038.5 1458.0 L2041.1 1410.0 L2043.8 1365.0 L2045.6 1358.0 L2047.7 1365.0 L2049.7 1400.0 L2056.2 1405.0 L2058.8 1410.0 L2059.5 1458.0" stroke="#ff0000" stroke-width="12" stroke-dasharray="45.5 10.4 23.2 10.4" stroke-linejoin="round"/>
<path d="M2066.0 1458.7 L2068.0 1300.0 L2069.7 1158.0 L2072.0 1300.0 L2074.0 1385.0 L2082.0 1395.0 L2092.0 1420.0 L2100.0 1449.0 L2112.0 1443.0 L2118.0 1430.0 L2126.0 1404.0 L2129.0 1412.0" stroke="#ff0000" stroke-width="12" stroke-dasharray="45.5 10.4 23.2 10.4" stroke-linejoin="round"/>
</g>
<rect x="1145.9" y="184.4" width="939.8" height="177.2" fill="#fff" stroke="#262626" stroke-width="4"/>
<path d="M1161.5 232 H1330" stroke="#0000ff" stroke-width="7"/>
<path d="M1161.8 312.9 H1330" stroke="#ff0000" stroke-width="12" stroke-dasharray="45.5 10.4 23.2 10.4"/>
<g font-family="'Liberation Serif', serif" font-weight="bold" font-size="70.5" fill="#000"><text x="1340.9" y="255.6">Optimized control value</text><text x="1340.9" y="336.8">Field control value</text></g>
<g font-family="'Liberation Serif', serif" font-weight="bold" font-size="80" fill="#262626">
<text x="226.0" y="1556.3" text-anchor="middle">0</text>
<text x="543.2" y="1556.3" text-anchor="middle">0.5</text>
<text x="860.5" y="1556.3" text-anchor="middle">1</text>
<text x="1177.8" y="1556.3" text-anchor="middle">1.5</text>
<text x="1495.0" y="1556.3" text-anchor="middle">2</text>
<text x="1812.2" y="1556.3" text-anchor="middle">2.5</text>
<text x="2129.5" y="1556.3" text-anchor="middle">3</text>
<text x="199.3" y="1486.3" text-anchor="end">0</text>
<text x="199.3" y="1321.5" text-anchor="end">10</text>
<text x="199.3" y="1156.6" text-anchor="end">20</text>
<text x="199.3" y="991.8" text-anchor="end">30</text>
<text x="199.3" y="826.9" text-anchor="end">40</text>
<text x="199.3" y="662.1" text-anchor="end">50</text>
<text x="199.3" y="497.2" text-anchor="end">60</text>
<text x="199.3" y="332.4" text-anchor="end">70</text>
<text x="199.3" y="167.5" text-anchor="end">80</text>
</g>
<text font-family="'Liberation Serif', serif" font-weight="bold" font-size="85.7" fill="#262626" x="1176.5" y="1660" text-anchor="middle">Time/s</text>
<text font-family="'Liberation Serif', serif" font-weight="bold" font-size="85.85" fill="#262626" transform="translate(82.5 801.2) rotate(-90)" text-anchor="middle">A-side desuperated water valve opening/%</text>
<text font-family="'Liberation Serif', serif" font-size="100" fill="#262626" x="1955.8" y="1692.9">×</text>
<text font-family="'Liberation Serif', serif" font-weight="bold" font-size="80" fill="#262626" x="2017" y="1678">10</text>
<text font-family="'Liberation Serif', serif" font-weight="bold" font-size="63.5" fill="#262626" x="2096" y="1639.6">4</text>
</svg></body></html>
